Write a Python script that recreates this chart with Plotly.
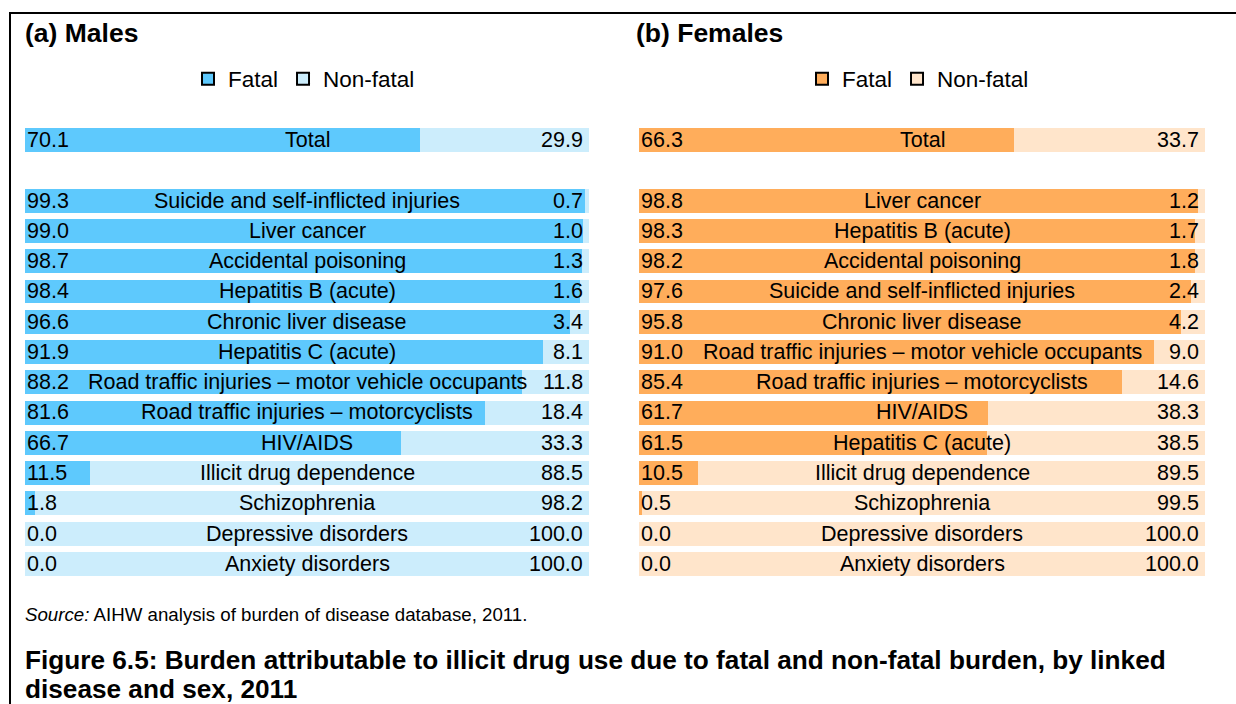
import plotly.graph_objects as go

# ---- data ----
male_categories = ["Total", "Suicide and self-inflicted injuries", "Liver cancer", "Accidental poisoning",
                   "Hepatitis B (acute)", "Chronic liver disease", "Hepatitis C (acute)",
                   "Road traffic injuries – motor vehicle occupants", "Road traffic injuries – motorcyclists",
                   "HIV/AIDS", "Illicit drug dependence", "Schizophrenia", "Depressive disorders",
                   "Anxiety disorders"]
male_fatal = [70.1, 99.3, 99.0, 98.7, 98.4, 96.6, 91.9, 88.2, 81.6, 66.7, 11.5, 1.8, 0.0, 0.0]
male_nonfatal = [29.9, 0.7, 1.0, 1.3, 1.6, 3.4, 8.1, 11.8, 18.4, 33.3, 88.5, 98.2, 100.0, 100.0]

female_categories = ["Total", "Liver cancer", "Hepatitis B (acute)", "Accidental poisoning",
                     "Suicide and self-inflicted injuries", "Chronic liver disease",
                     "Road traffic injuries – motor vehicle occupants", "Road traffic injuries – motorcyclists",
                     "HIV/AIDS", "Hepatitis C (acute)", "Illicit drug dependence", "Schizophrenia",
                     "Depressive disorders", "Anxiety disorders"]
female_fatal = [66.3, 98.8, 98.3, 98.2, 97.6, 95.8, 91.0, 85.4, 61.7, 61.5, 10.5, 0.5, 0.0, 0.0]
female_nonfatal = [33.7, 1.2, 1.7, 1.8, 2.4, 4.2, 9.0, 14.6, 38.3, 38.5, 89.5, 99.5, 100.0, 100.0]

caption_lines = ["Figure 6.5: Burden attributable to illicit drug use due to fatal and non-fatal burden, by linked",
                 "disease and sex, 2011"]
source_text = "<i>Source:</i> AIHW analysis of burden of disease database, 2011."

# ---- style ----
FONT = "Liberation Sans, Arial, sans-serif"
M_FATAL, M_NON = "#5EC9FD", "#CCEDFC"
F_FATAL, F_NON = "#FFAD5B", "#FFE5CB"
W, H = 1236, 704
LBL = 21.5

# row positions: Total, a blank row, then the diseases
rows = [0] + list(range(2, 2 + len(male_categories) - 1))

fig = go.Figure()

panels = [
    ("x", "legend", male_categories, male_fatal, male_nonfatal, M_FATAL, M_NON),
    ("x2", "legend2", female_categories, female_fatal, female_nonfatal, F_FATAL, F_NON),
]

annotations = []
for xa, lg, cats, fat, non, cf, cn in panels:
    fig.add_trace(go.Bar(y=rows, x=fat, base=0, orientation="h", marker=dict(color=cf, line=dict(width=0)),
                         width=0.79, xaxis=xa, yaxis="y", showlegend=False, hoverinfo="skip"))
    fig.add_trace(go.Bar(y=rows, x=non, base=fat, orientation="h", marker=dict(color=cn, line=dict(width=0)),
                         width=0.79, xaxis=xa, yaxis="y", showlegend=False, hoverinfo="skip"))
    # legend-only entries
    for name, col in (("Fatal", cf), ("Non-fatal", cn)):
        fig.add_trace(go.Scatter(x=[None], y=[None], mode="markers", name=name, legend=lg,
                                 marker=dict(symbol="square", size=16, color=col,
                                             line=dict(color="black", width=2)),
                                 xaxis=xa, yaxis="y"))
    for r, c, f, n in zip(rows, cats, fat, non):
        annotations.append(dict(xref=xa, yref="y", x=0, y=r, text=f"{f:.1f}", showarrow=False,
                                xanchor="left", xshift=0, font=dict(size=LBL, color="black", family=FONT)))
        annotations.append(dict(xref=xa, yref="y", x=50, y=r, text=c, showarrow=False,
                                xanchor="center", font=dict(size=LBL, color="black", family=FONT)))
        annotations.append(dict(xref=xa, yref="y", x=100, y=r, text=f"{n:.1f}", showarrow=False,
                                xanchor="right", xshift=-4, font=dict(size=LBL, color="black", family=FONT)))

# panel titles
annotations.append(dict(xref="paper", yref="paper", x=23 / W, y=1 - 33 / H, text="<b>(a) Males</b>",
                        showarrow=False, xanchor="left", yanchor="middle",
                        font=dict(size=26.5, color="black", family=FONT)))
annotations.append(dict(xref="paper", yref="paper", x=634 / W, y=1 - 33 / H, text="<b>(b) Females</b>",
                        showarrow=False, xanchor="left", yanchor="middle",
                        font=dict(size=26.5, color="black", family=FONT)))
# source
annotations.append(dict(xref="paper", yref="paper", x=23 / W, y=1 - 614 / H, text=source_text,
                        showarrow=False, xanchor="left", yanchor="middle",
                        font=dict(size=18.7, color="black", family=FONT)))
# figure caption
for i, line in enumerate(caption_lines):
    annotations.append(dict(xref="paper", yref="paper", x=23 / W, y=1 - (660 + 29 * i) / H, align="left",
                            text=f"<b>{line}</b>", showarrow=False, xanchor="left", yanchor="middle",
                            font=dict(size=26.2, color="black", family=FONT)))

ytop = 140 - 15.125
ybot = 140 + 14.5 * 30.25 + 0.375
ax_common = dict(range=[0, 100], showgrid=False, zeroline=False, showticklabels=False,
                 ticks="", showline=False, fixedrange=True)
leg_common = dict(orientation="h", y=1 - 79 / H, xanchor="center", yanchor="middle",
                  font=dict(size=22.5, color="black", family=FONT), bgcolor="rgba(0,0,0,0)",
                  itemsizing="constant", traceorder="normal")
fig.update_layout(
    width=W, height=H,
    margin=dict(l=0, r=0, t=0, b=0),
    paper_bgcolor="white", plot_bgcolor="white",
    barmode="overlay",
    bargap=0,
    xaxis=dict(domain=[25 / W, 589 / W], **ax_common),
    xaxis2=dict(domain=[639 / W, 1205 / W], anchor="y", **ax_common),
    yaxis=dict(domain=[1 - ybot / H, 1 - ytop / H], range=[14.5, -0.5], showgrid=False, zeroline=False,
               showticklabels=False, ticks="", showline=False, fixedrange=True),
    legend=dict(x=304 / W, **leg_common),
    legend2=dict(x=918 / W, **leg_common),
    annotations=annotations,
    shapes=[
        dict(type="line", xref="paper", yref="paper", x0=10 / W, x1=1.0, y0=1 - 13 / H, y1=1 - 13 / H,
             line=dict(color="black", width=2)),
        dict(type="line", xref="paper", yref="paper", x0=10 / W, x1=10 / W, y0=1 - 12 / H, y1=0,
             line=dict(color="black", width=2)),
    ],
    font=dict(family=FONT, color="black"),
)

fig.write_html("out.html", config={"displayModeBar": False},
               post_script="document.body.style.margin='0';")
